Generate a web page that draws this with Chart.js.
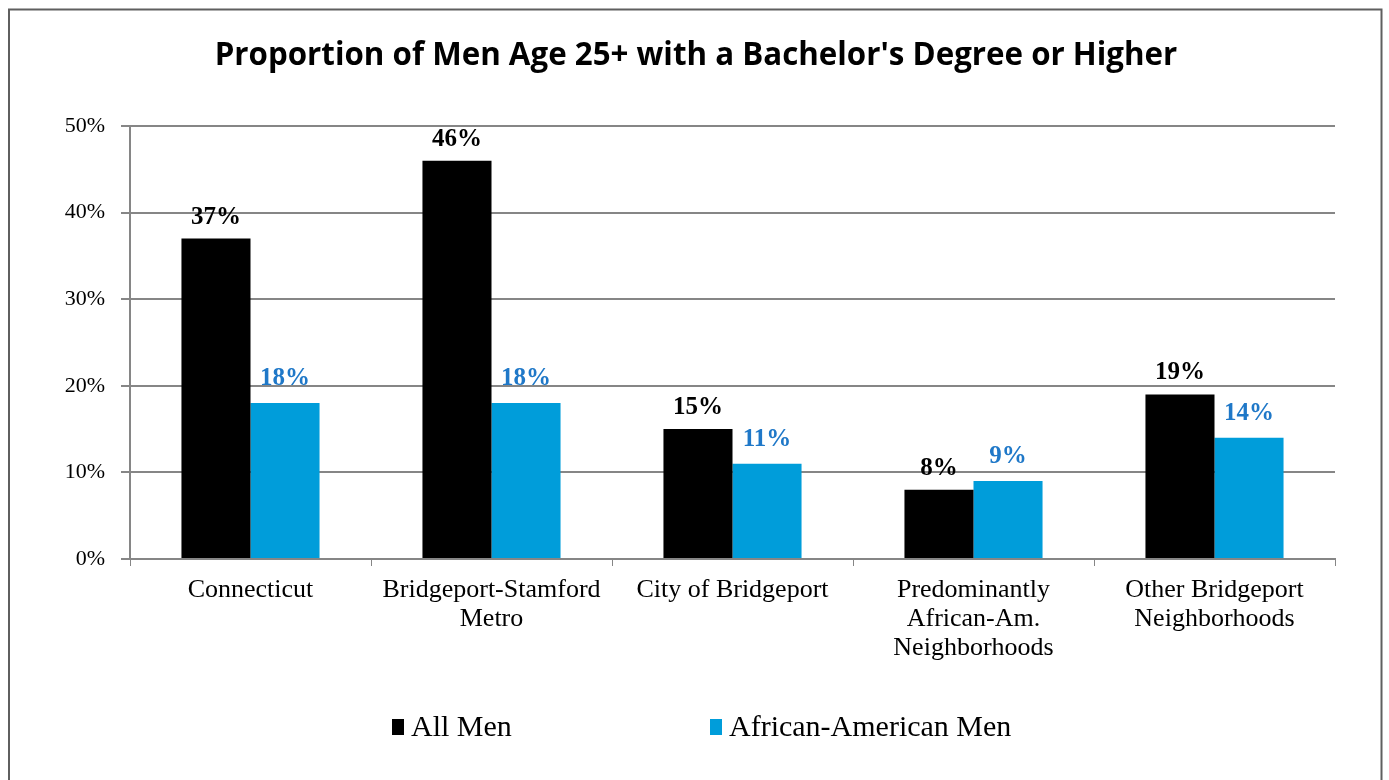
<!DOCTYPE html>
<html>
<head>
<meta charset="utf-8">
<script src="https://cdn.jsdelivr.net/npm/chart.js@4"></script>
<style>
  html, body { margin: 0; padding: 0; background: #ffffff; }
  #wrap { width: 1389px; height: 780px; position: relative; }
</style>
</head>
<body>
<div id="wrap"><canvas id="c" width="1389" height="780"></canvas></div>
<script>
const categories = [
  ['Connecticut'],
  ['Bridgeport-Stamford', 'Metro'],
  ['City of Bridgeport'],
  ['Predominantly', 'African-Am.', 'Neighborhoods'],
  ['Other Bridgeport', 'Neighborhoods']
];
const allMen = [37, 46, 15, 8, 19];
const africanAmericanMen = [18, 18, 11, 9, 14];
const seriesNames = ['All Men', 'African-American Men'];
const yTicks = [0, 10, 20, 30, 40, 50];
const titleText = "Proportion of Men Age 25+ with a Bachelor's Degree or Higher";

const BLACK = '#000000';
const BLUE = '#009DDA';
const LABEL_BLUE = '#1F78C8';
const GRID = '#868686';
const SERIF = '"Liberation Serif", "Times New Roman", serif';

const decorPlugin = {
  id: 'decor',
  beforeDraw(chart) {
    const ctx = chart.ctx;
    ctx.save();
    ctx.fillStyle = '#ffffff';
    ctx.fillRect(0, 0, chart.width, chart.height);
    ctx.strokeStyle = '#5f5f5f';
    ctx.lineWidth = 2;
    ctx.strokeRect(9, 9.5, 1372.5, 790);
    // title
    let size = 30;
    ctx.font = 'bold ' + size + 'px "Open Sans", sans-serif';
    const w = ctx.measureText(titleText).width;
    size = size * 963 / w;
    ctx.font = 'bold ' + size.toFixed(2) + 'px "Open Sans", sans-serif';
    ctx.fillStyle = '#000000';
    ctx.textAlign = 'center';
    ctx.textBaseline = 'middle';
    ctx.fillText(titleText, 696, 56);
    ctx.restore();
  },
  afterDatasetsDraw(chart) {
    const ctx = chart.ctx;
    ctx.save();
    ctx.textAlign = 'center';
    ctx.textBaseline = 'alphabetic';
    chart.data.datasets.forEach((ds, di) => {
      const meta = chart.getDatasetMeta(di);
      ctx.font = 'bold 25px ' + SERIF;
      ctx.fillStyle = di === 0 ? BLACK : LABEL_BLUE;
      meta.data.forEach((bar, i) => {
        ctx.fillText(ds.data[i] + '%', bar.x, bar.y - (di === 0 ? 15 : 18));
      });
    });
    // legend
    const legendLeft = 392;
    const slot = 318;
    const cy = 727;
    chart.data.datasets.forEach((ds, di) => {
      const x = legendLeft + di * slot;
      ctx.fillStyle = ds.backgroundColor;
      ctx.fillRect(x, cy - 8, 12, 16);
      ctx.fillStyle = '#000000';
      ctx.font = '30px ' + SERIF;
      ctx.textAlign = 'left';
      ctx.textBaseline = 'middle';
      ctx.fillText(ds.label, x + 19, cy + 1);
    });
    ctx.restore();
  }
};

new Chart(document.getElementById('c'), {
  type: 'bar',
  data: {
    labels: categories,
    datasets: [
      { label: seriesNames[0], data: allMen, backgroundColor: BLACK },
      { label: seriesNames[1], data: africanAmericanMen, backgroundColor: BLUE }
    ]
  },
  options: {
    responsive: false,
    animation: false,
    devicePixelRatio: 1,
    layout: { padding: { left: 0, right: 54, top: 126, bottom: 0 } },
    plugins: {
      legend: { display: false },
      title: { display: false },
      tooltip: { enabled: false }
    },
    datasets: {
      bar: { categoryPercentage: 0.573, barPercentage: 1.0 }
    },
    scales: {
      x: {
        grid: {
          display: true,
          drawOnChartArea: false,
          drawTicks: true,
          tickLength: 7,
          color: GRID,
          offset: true
        },
        border: { display: true, color: GRID, width: 2 },
        ticks: {
          color: '#000000',
          font: { family: SERIF, size: 26, lineHeight: 1.13 },
          padding: 9,
          maxRotation: 0,
          autoSkip: false
        },
        afterFit(scale) { scale.height = 221; }
      },
      y: {
        min: 0,
        max: 50,
        afterBuildTicks(scale) { scale.ticks = yTicks.map(v => ({ value: v })); },
        grid: {
          color: GRID,
          lineWidth: 2,
          tickLength: 9,
          drawTicks: true
        },
        border: { display: true, color: GRID, width: 2 },
        ticks: {
          color: '#000000',
          font: { family: SERIF, size: 22 },
          padding: 16,
          callback: v => v + '%'
        },
        afterFit(scale) { scale.width = 130; }
      }
    }
  },
  plugins: [decorPlugin]
});
</script>
</body>
</html>
